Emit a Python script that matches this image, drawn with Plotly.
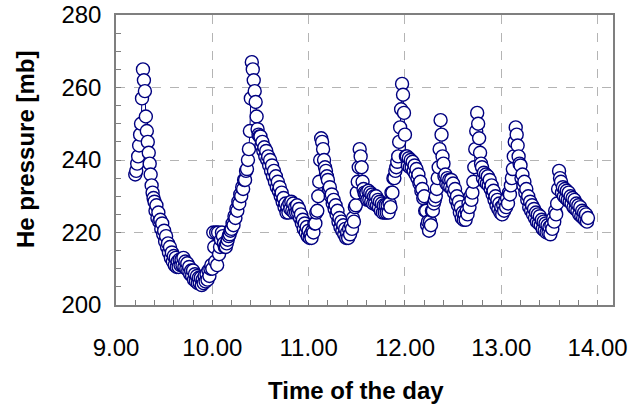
import plotly.graph_objects as go

# Helium pressure [mb], sampled every 0.01 h starting at 9.20 h
t_start = 9.20
t_step = 0.01
pressure = [
    236, 237, 239, 241, 244, 247, 250, 257, 265, 262,                  # 9.20
    259, 252, 248, 245, 242, 239, 236, 233, 231, 229.5,                # 9.30
    228.5, 226, 227.5, 224, 225.5, 223, 223.5, 221, 222.5, 219.5,      # 9.40
    220.5, 217.5, 219, 216, 217, 214.5, 216, 213, 214.5, 212,          # 9.50
    213.5, 211, 213, 210.5, 212, 210.5, 212.5, 211, 212.5, 211,        # 9.60
    213, 210.5, 212, 210, 211.5, 209.5, 210.5, 208.5, 209.5, 208,      # 9.70
    209.5, 207, 208.5, 206.5, 208, 206, 207.5, 206, 207.5, 205.5,      # 9.80
    207, 206, 208, 206.5, 208.5, 207, 209.5, 208, 210, 211,            # 9.90
    210, 220, 216, 212, 220, 211, 220, 214, 216, 218,                  # 10.00
    220, 219, 217, 216, 216, 217, 218, 219, 219.5, 220.5,              # 10.10
    221, 222.5, 222, 224.5, 224, 226.5, 226, 228.5, 228, 230.5,        # 10.20
    230, 232.5, 232, 234.5, 234.5, 237, 237.5, 240, 243, 248,          # 10.30
    257, 267, 265, 262, 259, 256, 252, 248.5, 247, 246.5,              # 10.40
    246.5, 244, 245, 242.5, 243.5, 241, 242.5, 240, 241, 238.5,        # 10.50
    240, 237, 238.5, 235.5, 237, 234, 235.5, 232.5, 234, 231.5,        # 10.60
    232.5, 230, 231, 228.5, 229.5, 227, 228, 225.5, 227, 225.5,        # 10.70
    228, 226.5, 228.5, 226, 228, 225.5, 227, 225.5, 227.5, 225.5,      # 10.80
    226.5, 224, 225, 222.5, 223.5, 221, 222.5, 220, 221.5, 219,        # 10.90
    220.5, 218.5, 219.5, 218.5, 220.5, 220, 222.5, 222.5, 225.5, 226,  # 11.00
    230, 234, 240, 246, 245, 243, 240, 238, 237, 235.5,                # 11.10
    234.5, 232, 232.5, 230, 230.5, 228, 229, 226.5, 227.5, 225,        # 11.20
    226, 223, 224, 221.5, 223, 220.5, 222, 219.5, 221, 218.5,          # 11.30
    220, 218.5, 221, 219.5, 222, 221, 224, 223, 227, 227.5,            # 11.40
    231, 234, 238, 243, 241, 238, 234, 232, 231, 230.5,                # 11.50
    231, 229, 231.5, 229, 231, 228.5, 230.5, 228, 230, 228,            # 11.60
    230, 227.5, 229, 227, 228.5, 226, 228, 225.5, 227.5, 225.5,        # 11.70
    227.5, 225.5, 227.5, 225.5, 228, 227, 231, 231, 235, 235,          # 11.80
    237, 238, 239.5, 241, 245, 249, 254, 261, 258, 253,                # 11.90
    247, 241, 241, 238.5, 240.5, 238, 240, 238, 239.5, 237,            # 12.00
    238.5, 236, 237.5, 235, 236, 233.5, 234, 231.5, 232, 229.5,        # 12.10
    230, 226, 226, 222, 223, 220.5, 223, 222, 226, 226,                # 12.20
    228, 229, 230, 232, 235, 238, 243, 251, 247, 241,                  # 12.30
    239, 235.5, 236, 233.5, 235, 233, 234.5, 232.5, 234.5, 232,        # 12.40
    233.5, 231, 232, 229, 230, 227.5, 228.5, 225.5, 227, 224,          # 12.50
    225.5, 223.5, 225, 223.5, 226, 225, 228, 227, 230, 229,            # 12.60
    231, 234, 238, 243, 248, 253, 250, 246, 242, 239,                  # 12.70
    238, 235, 236.5, 234, 236, 233.5, 235.5, 233, 234.5, 232,          # 12.80
    233, 230.5, 231.5, 229, 230, 227.5, 229, 226.5, 228, 225.5,        # 12.90
    227, 225, 227.5, 226, 228.5, 227, 229.5, 228, 231, 230.5,          # 13.00
    233, 235, 237.5, 241, 245, 249, 247, 244, 241, 239,                # 13.10
    238.5, 235, 236, 233, 234, 231, 232, 229, 230, 227,                # 13.20
    228.5, 226, 227.5, 225, 226.5, 224, 225.5, 223, 225, 222.5,        # 13.30
    224.5, 222, 223.5, 221, 223, 220.5, 222.5, 220, 222, 220,          # 13.40
    221.5, 219.5, 222, 221, 224, 223, 226, 225, 228, 232,              # 13.50
    237, 235, 234, 231, 232.5, 230, 232, 229.5, 231.5, 229,            # 13.60
    231, 228.5, 230, 228, 229.5, 227, 229, 226.5, 228, 226,            # 13.70
    227.5, 225, 227, 224.5, 226, 224, 225.5, 223.5, 225, 223,          # 13.80
    224,                                                               # 13.90
]
time_of_day = [round(t_start + t_step * i, 2) for i in range(len(pressure))]

x_ticks = [9, 10, 11, 12, 13, 14]
x_tick_labels = ["9.00", "10.00", "11.00", "12.00", "13.00", "14.00"]
y_ticks = [200, 220, 240, 260, 280]

NAVY = "#000080"
FONT = "Liberation Sans, Arial, sans-serif"

fig = go.Figure()
fig.add_trace(go.Scatter(
    x=time_of_day, y=pressure, mode="lines+markers",
    line=dict(color=NAVY, width=1),
    marker=dict(symbol="circle", size=13, color="white",
                line=dict(color=NAVY, width=1.4)),
    showlegend=False, hoverinfo="skip",
))

axis_common = dict(
    showline=True, mirror=True, linecolor="#7f7f7f", linewidth=1.5,
    showgrid=True, gridcolor="#b4b4b4", gridwidth=1, griddash="dash",
    zeroline=False, ticks="inside", ticklen=5, tickcolor="#7f7f7f", tickwidth=1,
    tickfont=dict(family=FONT, size=24, color="black"),
    automargin=False,
)

fig.update_xaxes(
    range=[9, 14.16], tickvals=x_ticks, ticktext=x_tick_labels,
    minor=dict(dtick=0.2, tick0=9, ticks="inside", ticklen=5, tickcolor="#7f7f7f", showgrid=False),
    ticklabelstandoff=20,
    **axis_common,
)
fig.update_yaxes(
    range=[200, 280], tickvals=y_ticks,
    minor=dict(dtick=5, tick0=200, ticks="inside", ticklen=5, tickcolor="#7f7f7f", showgrid=False),
    ticklabelstandoff=8,
    **axis_common,
)

fig.add_annotation(
    text="<b>Time of the day</b>", xref="paper", yref="paper",
    x=(355.5 - 116) / 497, y=-(390 - 305) / 290, xanchor="center", yanchor="middle",
    showarrow=False, font=dict(family=FONT, size=24, color="black"),
)
fig.add_annotation(
    text="<b>He pressure [mb]</b>", xref="paper", yref="paper",
    x=-(116 - 25) / 497, y=(305 - 150) / 290, xanchor="center", yanchor="middle",
    textangle=-90, showarrow=False, font=dict(family=FONT, size=24, color="black"),
)

fig.update_layout(
    width=633, height=407,
    margin=dict(l=116, r=20, t=15, b=102),
    paper_bgcolor="white", plot_bgcolor="white",
)

fig.write_html(
    "out.html",
    config={"displayModeBar": False},
    post_script="document.body.style.margin='0';document.body.style.overflow='hidden';",
)
